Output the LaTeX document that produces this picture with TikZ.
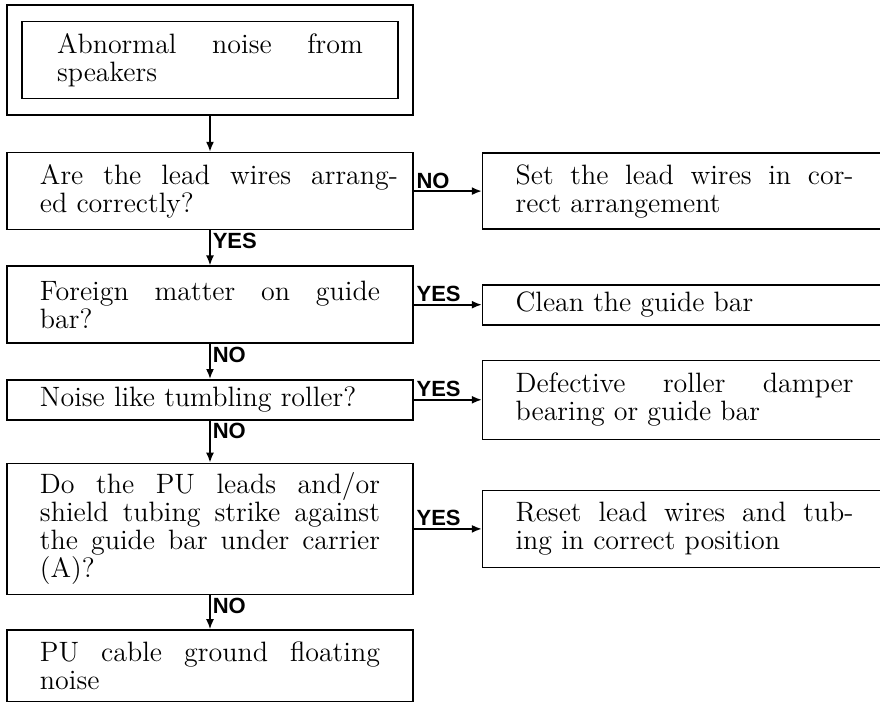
\documentclass[tikz,border=0pt]{standalone}
\usepackage{fontspec}
\setsansfont{Liberation Sans}
\usetikzlibrary{positioning,arrows.meta}
\hbadness=10000

\tikzset{
  box/.style={draw, line width=0.8pt, rectangle, inner sep=0pt, text width=203pt,
    align=justify, font=\fontsize{14pt}{14pt}\selectfont,
    execute at begin node={\leftskip=16.5pt\rightskip=16.5pt}},
  rbox/.style={box, text width=202pt},
  lbl/.style={font=\sffamily\bfseries\fontsize{11pt}{11pt}\selectfont, inner sep=1pt},
}

\begin{document}
\begin{tikzpicture}[x=0.5pt, y=-0.5pt, >={Latex[length=5pt,width=4pt]}, line width=0.8pt]
  \useasboundingbox (0,0) rectangle (880,702);
  \clip (0,0) rectangle (880,702);

  % left column
  \node[draw, minimum width=203pt, minimum height=55pt, inner sep=0pt] (start) at (210,60) {};
  \node[box, text width=188pt, minimum height=38.5pt,
    execute at begin node={\leftskip=17.5pt\rightskip=17.5pt}] (startin) at (start.center)
    {Abnormal noise from\linebreak speakers};
  \node[box, minimum height=38.5pt, below=18pt of start,
    execute at begin node={\leftskip=16.5pt\rightskip=7.5pt}] (q1)
    {Are the lead wires arrang-\linebreak ed correctly?};
  \node[box, minimum height=38.5pt, below=17.5pt of q1] (q2)
    {Foreign matter on guide\linebreak bar?};
  \node[box, minimum height=20pt, below=17.5pt of q2] (q3)
    {Noise like tumbling roller?};
  \node[box, minimum height=65.5pt, below=21pt of q3] (q4)
    {Do the PU leads and/or\linebreak shield tubing strike against\linebreak the guide bar under carrier\linebreak (A)?};
  \node[box, minimum height=36pt, below=17pt of q4] (q5)
    {PU cable ground floating\linebreak noise};

  % right column
  \node[rbox, minimum height=38pt, right=34pt of q1] (a1)
    {Set the lead wires in cor-\linebreak rect arrangement};
  \node[rbox, minimum height=20pt, right=34pt of q2] (a2)
    {Clean the guide bar};
  \node[rbox, minimum height=39.5pt, right=34pt of q3] (a3)
    {Defective roller damper\linebreak bearing or guide bar};
  \node[rbox, minimum height=38.5pt, right=34pt of q4] (a4)
    {Reset lead wires and tub-\linebreak ing in correct position};

  % connectors
  \draw[->] (start.south) -- (q1.north);
  \draw[->] (q1.south) -- (q2.north) node[lbl, pos=0, anchor=north west] (y1) {YES};
  \draw[->] (q2.south) -- (q3.north) node[lbl, pos=0, anchor=north west] (n2) {NO};
  \draw[->] (q3.south) -- (q4.north) node[lbl, pos=0, anchor=north west] (n3) {NO};
  \draw[->] (q4.south) -- (q5.north) node[lbl, pos=0, anchor=north west] (n4) {NO};
  \draw[->] (q1.east) -- (a1.west) node[lbl, pos=0, anchor=south west] (n1) {NO};
  \draw[->] (q2.east) -- (a2.west) node[lbl, pos=0, anchor=south west] (y2) {YES};
  \draw[->] (q3.east) -- (a3.west) node[lbl, pos=0, anchor=south west] (y3) {YES};
  \draw[->] (q4.east) -- (a4.west) node[lbl, pos=0, anchor=south west] (y4) {YES};
\end{tikzpicture}
\end{document}
